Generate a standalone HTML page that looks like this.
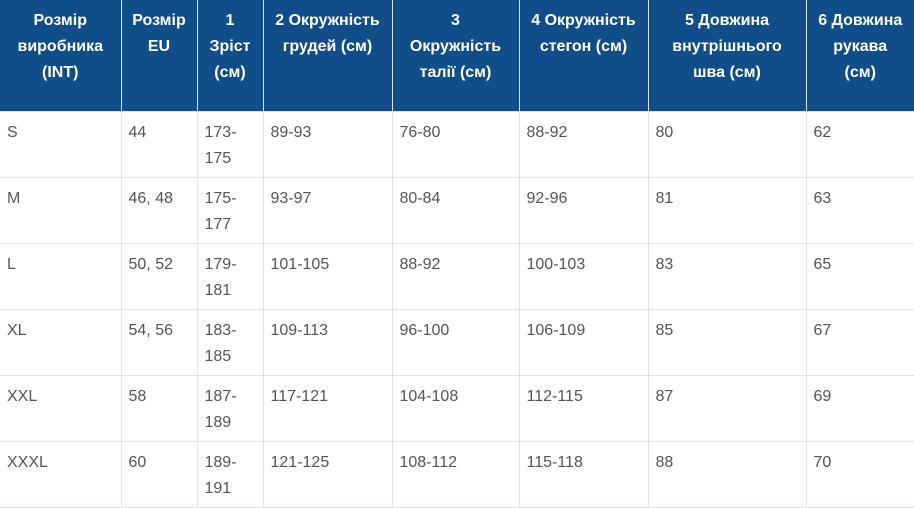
<!DOCTYPE html>
<html><head><meta charset="utf-8"><style>
body{margin:0;background:#fff;width:914px;height:507px;overflow:hidden}
table{border-collapse:collapse;table-layout:fixed;width:914px;font-family:"Liberation Sans",Arial,sans-serif;font-size:16px;line-height:26px}
th{background:#114e89;color:#fff;font-weight:bold;text-align:center;vertical-align:top;height:111px;padding:8px 2px 0;box-sizing:border-box;border-left:1px solid #dfe4ea;border-right:1px solid #dfe4ea;white-space:nowrap}
td{color:#555;vertical-align:top;height:66px;padding:8px 7px 0;box-sizing:border-box;border:1px solid #dfe4ea}
tr td:first-child,tr th:first-child{border-left:none}
tr td:last-child,tr th:last-child{border-right:none}
</style></head><body>
<table>
<colgroup><col style="width:121px"><col style="width:76px"><col style="width:66px"><col style="width:129px"><col style="width:127px"><col style="width:129px"><col style="width:158px"><col style="width:108px"></colgroup>
<tr><th>Розмір<br>виробника<br>(INT)</th><th>Розмір<br>EU</th><th>1<br>Зріст<br>(см)</th><th>2 Окружність<br>грудей (см)</th><th>3<br>Окружність<br>талії (см)</th><th>4 Окружність<br>стегон (см)</th><th>5 Довжина<br>внутрішнього<br>шва (см)</th><th>6 Довжина<br>рукава<br>(см)</th></tr>
<tr><td>S</td><td>44</td><td>173-175</td><td>89-93</td><td>76-80</td><td>88-92</td><td>80</td><td>62</td></tr>
<tr><td>M</td><td>46, 48</td><td>175-177</td><td>93-97</td><td>80-84</td><td>92-96</td><td>81</td><td>63</td></tr>
<tr><td>L</td><td>50, 52</td><td>179-181</td><td>101-105</td><td>88-92</td><td>100-103</td><td>83</td><td>65</td></tr>
<tr><td>XL</td><td>54, 56</td><td>183-185</td><td>109-113</td><td>96-100</td><td>106-109</td><td>85</td><td>67</td></tr>
<tr><td>XXL</td><td>58</td><td>187-189</td><td>117-121</td><td>104-108</td><td>112-115</td><td>87</td><td>69</td></tr>
<tr><td>XXXL</td><td>60</td><td>189-191</td><td>121-125</td><td>108-112</td><td>115-118</td><td>88</td><td>70</td></tr>
</table>
</body></html>
